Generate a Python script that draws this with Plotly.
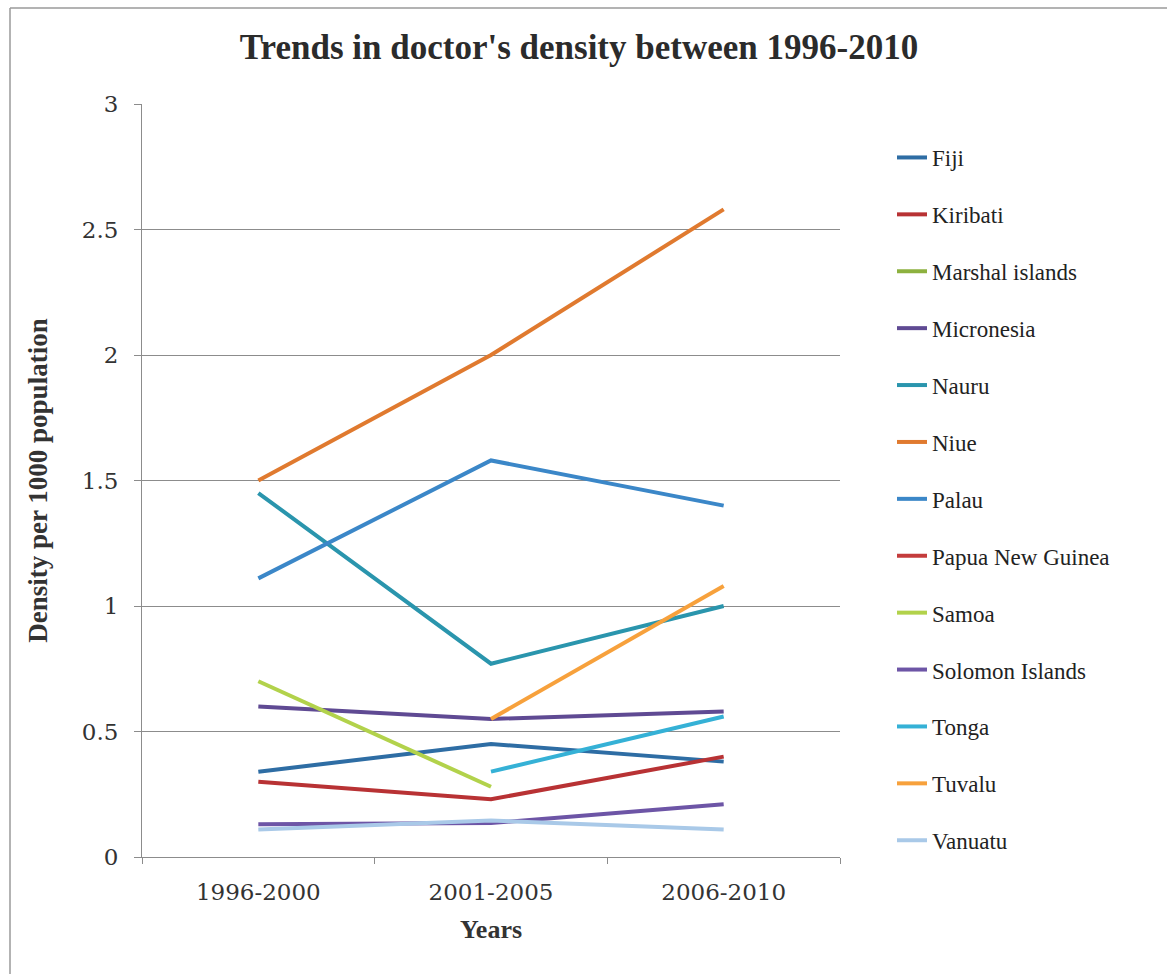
import plotly.graph_objects as go

periods = ["1996-2000", "2001-2005", "2006-2010"]

fiji = [0.34, 0.45, 0.38]
kiribati = [0.30, 0.23, 0.40]
marshal_islands = [None, None, None]
micronesia = [0.60, 0.55, 0.58]
nauru = [1.45, 0.77, 1.00]
niue = [1.50, 2.00, 2.58]
palau = [1.11, 1.58, 1.40]
papua_new_guinea = [None, None, None]
samoa = [0.70, 0.28, None]
solomon_islands = [0.13, 0.135, 0.21]
tonga = [None, 0.34, 0.56]
tuvalu = [None, 0.55, 1.08]
vanuatu = [0.11, 0.145, 0.11]

series = [
    ("Fiji", fiji, "#2e6da4"),
    ("Kiribati", kiribati, "#b83234"),
    ("Marshal islands", marshal_islands, "#8db13f"),
    ("Micronesia", micronesia, "#5f4a93"),
    ("Nauru", nauru, "#2a95ad"),
    ("Niue", niue, "#e07a2f"),
    ("Palau", palau, "#3b87c8"),
    ("Papua New Guinea", papua_new_guinea, "#c43c3c"),
    ("Samoa", samoa, "#b2d24b"),
    ("Solomon Islands", solomon_islands, "#6d55a6"),
    ("Tonga", tonga, "#35b1d6"),
    ("Tuvalu", tuvalu, "#f7a13c"),
    ("Vanuatu", vanuatu, "#a9c9e8"),
]

fig = go.Figure()
for i, (name, vals, color) in enumerate(series):
    fig.add_trace(go.Scatter(
        x=periods, y=vals, name=name, mode="lines",
        line=dict(color=color, width=4),
        legendgroup=f"g{i}",
        connectgaps=False,
    ))

W, H = 1167, 974
L, R, T, B = 142, 840, 104, 857
pw, ph = R - L, B - T

def px_x(x):
    return (x - L) / pw

def px_y(y):
    return (B - y) / ph

fig.update_layout(
    width=W, height=H,
    margin=dict(l=L, r=W - R, t=T, b=H - B, pad=0),
    paper_bgcolor="white", plot_bgcolor="white",
    title=dict(
        text="<b>Trends in doctor's density between 1996-2010</b>",
        font=dict(family="Liberation Serif", size=35, color="#2b2b2b"),
        x=579 / W, xanchor="center", xref="container",
        y=1 - 47 / H, yanchor="middle", yref="container",
    ),
    legend=dict(
        x=px_x(892), xanchor="left",
        y=px_y(136), yanchor="top",
        font=dict(family="Liberation Serif", size=23, color="#222222"),
        tracegroupgap=24,
        traceorder="grouped",
        bgcolor="rgba(0,0,0,0)",
    ),
    showlegend=True,
    xaxis=dict(
        type="category",
        range=[-0.5, 2.5],
        showgrid=False,
        showline=True, linecolor="#8c8c8c", linewidth=1,
        ticks="outside", ticklen=6, tickcolor="#8c8c8c",
        tickson="boundaries",
        tickfont=dict(family="DejaVu Serif", size=23, color="#333333"),
        ticklabelstandoff=14,
        title=dict(text="<b>Years</b>",
                   font=dict(family="Liberation Serif", size=26, color="#333333"),
                   standoff=16),
        zeroline=False,
    ),
    yaxis=dict(
        range=[0, 3],
        dtick=0.5,
        showgrid=True, gridcolor="#8c8c8c", gridwidth=1,
        showline=True, linecolor="#8c8c8c", linewidth=1,
        ticks="outside", ticklen=7, tickcolor="#8c8c8c",
        tickfont=dict(family="DejaVu Serif", size=23, color="#333333"),
        ticklabelstandoff=11,
        title=dict(text="<b>Density per 1000 population</b>",
                   font=dict(family="Liberation Serif", size=27, color="#333333"),
                   standoff=26),
        zeroline=False,
    ),
    shapes=[
        dict(type="line", xref="paper", yref="paper",
             x0=px_x(10), x1=px_x(10), y0=px_y(8), y1=px_y(1000),
             line=dict(color="#9a9a9a", width=1.5)),
        dict(type="line", xref="paper", yref="paper",
             x0=px_x(10), x1=px_x(1200), y0=px_y(8), y1=px_y(8),
             line=dict(color="#9a9a9a", width=1.5)),
    ],
)

fig.write_html("out.html")
